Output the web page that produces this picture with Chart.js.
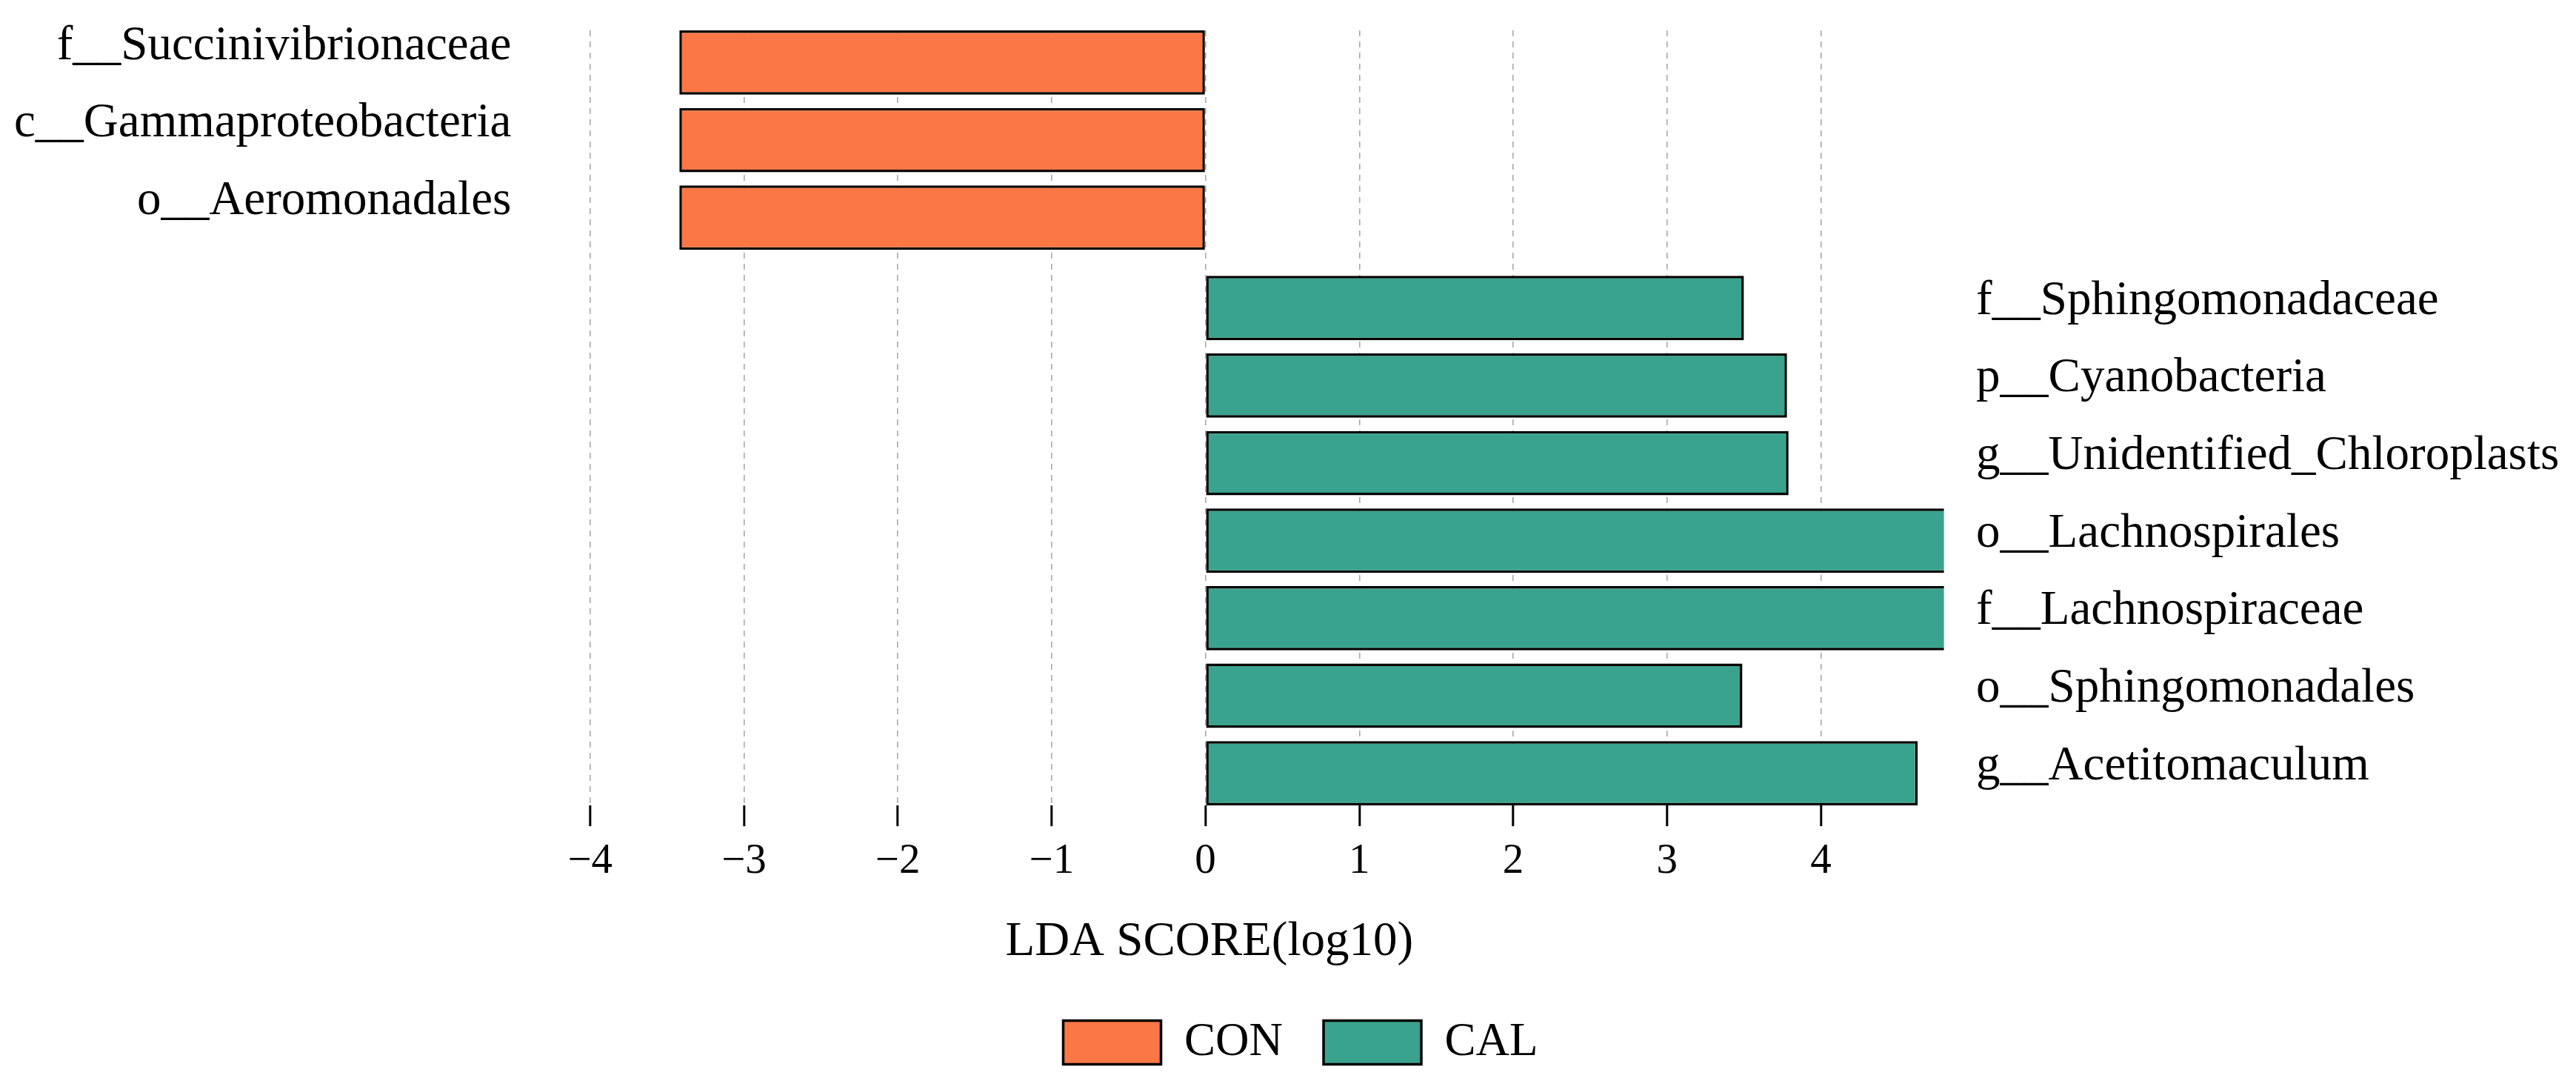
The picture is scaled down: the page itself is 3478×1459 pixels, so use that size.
<!DOCTYPE html>
<html>
<head>
<meta charset="utf-8">
<script src="https://cdn.jsdelivr.net/npm/chart.js@4.4.1/dist/chart.umd.min.js"></script>
<style>
  html, body { margin: 0; padding: 0; background: #fff; }
  #wrap { width: 3478px; height: 1459px; }
</style>
</head>
<body>
<div id="wrap"><canvas id="ldaChart" width="3478" height="1459"></canvas></div>
<script>
// taxa, top row first
var taxa = [
  'f__Succinivibrionaceae',
  'c__Gammaproteobacteria',
  'o__Aeromonadales',
  'f__Sphingomonadaceae',
  'p__Cyanobacteria',
  'g__Unidentified_Chloroplasts',
  'o__Lachnospirales',
  'f__Lachnospiraceae',
  'o__Sphingomonadales',
  'g__Acetitomaculum'
];
var groups = ['CON', 'CON', 'CON', 'CAL', 'CAL', 'CAL', 'CAL', 'CAL', 'CAL', 'CAL'];
var ldaScores = [-3.42, -3.42, -3.42, 3.50, 3.78, 3.79, 4.95, 4.94, 3.49, 4.63];
var xTicks = [-4, -3, -2, -1, 0, 1, 2, 3, 4];
var groupNames = ['CON', 'CAL'];
var groupColors = ['#fb7746', '#3aa38d'];

var GROUP_GAP = 0.166; // extra room between the two groups (in rows)
var BAR_FRAC = 0.83;   // bar height as part of a row

// row of each bar, 0 = top
var rowPos = [];
for (var i = 0; i < taxa.length; i++) {
  rowPos.push(i + (groups[i] === groupNames[1] ? GROUP_GAP : 0));
}
var yMin = rowPos[0] - BAR_FRAC / 2;
var yMax = rowPos[rowPos.length - 1] + BAR_FRAC / 2;

var datasets = groupNames.map(function (g, k) {
  var pts = [];
  for (var i = 0; i < taxa.length; i++) {
    if (groups[i] === g) pts.push({ x: ldaScores[i], y: rowPos[i] });
  }
  return {
    label: g,
    data: pts,
    backgroundColor: groupColors[k],
    borderColor: '#000',
    borderWidth: 3.5,
    borderSkipped: false,
    grouped: false,
    categoryPercentage: 1,
    barPercentage: BAR_FRAC,
    clip: { left: false, top: false, bottom: false, right: 0 }
  };
});

function rowTicks(scale) {
  scale.ticks = rowPos.map(function (v) { return { value: v }; });
}
function fixWidth(w) {
  return function (scale) {
    scale.width = w;
    scale.paddingTop = 0;
    scale.paddingBottom = 0;
  };
}
function labelFor(g) {
  return function (value, index) {
    return groups[index] === g ? taxa[index] : '';
  };
}

Chart.defaults.font.family = "'Liberation Serif', 'Times New Roman', serif";
Chart.defaults.color = '#000';

var ctx = document.getElementById('ldaChart').getContext('2d');
var ldaChart = new Chart(ctx, {
  type: 'bar',
  data: { datasets: datasets },
  options: {
    indexAxis: 'y',
    responsive: false,
    animation: false,
    devicePixelRatio: 1,
    layout: { padding: { top: 41, left: 34, right: 0, bottom: 10.5 } },
    plugins: {
      tooltip: { enabled: false },
      legend: {
        position: 'bottom',
        labels: {
          boxWidth: 132,
          boxHeight: 59,
          padding: 55,
          font: { size: 63 }
        }
      }
    },
    scales: {
      x: {
        type: 'linear',
        min: -4.75,
        max: 4.8,
        afterBuildTicks: function (scale) {
          scale.ticks = xTicks.map(function (v) { return { value: v }; });
        },
        ticks: {
          font: { size: 57 },
          padding: 14,
          autoSkip: false,
          maxRotation: 0,
          callback: function (v) { return v < 0 ? '\u2212' + (-v) : String(v); }
        },
        grid: {
          color: '#a8a8a8',
          lineWidth: 1.6,
          tickColor: '#000',
          tickWidth: 3,
          tickLength: 28
        },
        border: { display: false, dash: [8, 7] },
        title: {
          display: true,
          text: 'LDA SCORE(log10)',
          font: { size: 65 },
          padding: { top: 21, bottom: 10 }
        }
      },
      y: {
        type: 'linear',
        position: 'left',
        reverse: true,
        offset: false,
        min: yMin,
        max: yMax,
        afterBuildTicks: rowTicks,
        afterFit: fixWidth(607),
        grid: { display: false, drawTicks: false, offset: false },
        border: { display: false },
        ticks: {
          autoSkip: false,
          mirror: true,
          crossAlign: 'far',
          font: { size: 65 },
          padding: -622,
          labelOffset: -22,
          callback: labelFor('CON')
        }
      },
      y2: {
        type: 'linear',
        position: 'right',
        reverse: true,
        offset: false,
        min: yMin,
        max: yMax,
        afterBuildTicks: rowTicks,
        afterFit: fixWidth(853.4),
        grid: { display: false, drawTicks: false, offset: false },
        border: { display: false },
        ticks: {
          autoSkip: false,
          font: { size: 65 },
          padding: 43.5,
          labelOffset: -9,
          callback: labelFor('CAL')
        }
      }
    }
  }
});
</script>
</body>
</html>
